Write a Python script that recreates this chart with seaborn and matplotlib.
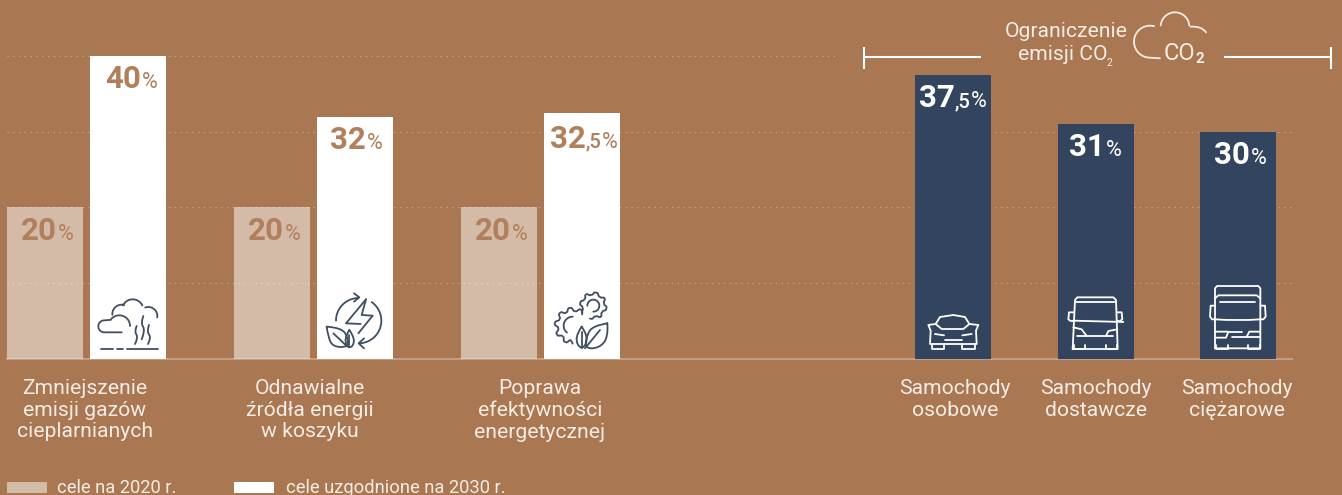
import numpy as np
import pandas as pd
import matplotlib
matplotlib.use("Agg")
import matplotlib.pyplot as plt
import seaborn as sns
from matplotlib.path import Path
from matplotlib.patches import PathPatch, Rectangle

# values
goal_labels = ["Zmniejszenie\nemisji gazów\ncieplarnianych",
               "Odnawialne\nźródła energii\nw koszyku",
               "Poprawa\nefektywności\nenergetycznej"]
goals_2020 = [20, 20, 20]
goals_2030 = [40, 32, 32.5]
vehicle_labels = ["Samochody\nosobowe", "Samochody\ndostawcze", "Samochody\nciężarowe"]
vehicle_cuts = [37.5, 31, 30]
legend_labels = ["cele na 2020 r.", "cele uzgodnione na 2030 r."]
co2_title = ["Ograniczenie", "emisji CO", "2"]

# layout, in pixels of the 1342x495 picture
W, H = 1342, 495
BASE_Y = 359
PX_PER_UNIT = 7.575
x_2020 = [45, 272, 499]
x_2030 = [128, 355, 582]
x_vehicles = [953, 1096, 1238]
label_x = [85, 310, 540, 955, 1096, 1237]
BG = "#a97752"
NAVY = "#33455e"
BROWN = "#b17f5b"
ICON = "#3f4e60"
LIGHT = "#f5ece4"
FONT = "Roboto"

sns.set_theme(style="white", rc={"font.family": FONT})

df = pd.DataFrame({
    "x": x_2020 + x_2030 + x_vehicles,
    "value": goals_2020 + goals_2030 + vehicle_cuts,
    "series": ["2020"] * 3 + ["2030"] * 3 + ["co2"] * 3,
})

fig = plt.figure(figsize=(W / 100, H / 100), dpi=100, facecolor=BG)
ax = fig.add_axes([0, 1 - BASE_Y / H, 1, BASE_Y / H], facecolor=BG)

# dotted guide lines go under the bars
dots = (0, (1, 4.2))
ax.hlines(40, 7, 835, color="#cfae95", lw=0.8, ls=dots, zorder=1)
ax.hlines([30, 20, 10], 7, 1295, color="#cfae95", lw=0.8, ls=dots, zorder=1)

sns.barplot(data=df, x="x", y="value", hue="series", native_scale=True, dodge=False,
            palette={"2020": "#ffffff", "2030": "#ffffff", "co2": NAVY},
            width=76 / 83, saturation=1, legend=False, ax=ax, zorder=2, linewidth=0)
for bar in ax.containers[0]:
    bar.set_alpha(0.5)

ax.set_xlim(0, W)
ax.set_ylim(0, BASE_Y / PX_PER_UNIT)
ax.set_xlabel("")
ax.set_ylabel("")
ax.set_yticks([])
ax.set_xticks(label_x, goal_labels + vehicle_labels)
ax.tick_params(axis="x", length=0, pad=14.5, labelsize=15.2, labelcolor=LIGHT)
for lab in ax.get_xticklabels():
    lab.set_linespacing(1.16)
for side in ["top", "left", "right"]:
    ax.spines[side].set_visible(False)
ax.spines["bottom"].set_bounds(7, 1292)
ax.spines["bottom"].set_color("#c39e82")
ax.spines["bottom"].set_linewidth(1.5)
ax.spines["bottom"].set_zorder(1.5)

# overlay in picture pixels for labels, icons and bracket
ov = fig.add_axes([0, 0, 1, 1], facecolor="none")
ov.set_xlim(0, W)
ov.set_ylim(H, 0)
ov.axis("off")
renderer = fig.canvas.get_renderer()


def value_label(value, right, color, drop=32):
    # % on the right, then decimals, then the big number
    whole, _, dec = f"{value:g}".partition(".")
    y = BASE_Y - value * PX_PER_UNIT + drop
    t = ov.text(right, y, "%", ha="right", va="baseline", color=color, fontsize=15.5)
    x = right - t.get_window_extent(renderer).width - 1
    if dec:
        t = ov.text(x, y, "," + dec, ha="right", va="baseline", color=color, fontsize=14.5, fontweight="medium")
        x -= t.get_window_extent(renderer).width
    ov.text(x, y, whole, ha="right", va="baseline", color=color, fontsize=22.5, fontweight="bold")


for x, v, pad in zip(x_2020, goals_2020, [9, 9, 9]):
    value_label(v, x + 38 - pad, BROWN, drop=33)
for x, v, pad in zip(x_2030, goals_2030, [8, 10, 2]):
    value_label(v, x + 38 - pad, BROWN, drop=35 if v == 32.5 else 32)
for x, v, pad in zip(x_vehicles, vehicle_cuts, [4, 12, 9]):
    value_label(v, x + 38 - pad, "white")


def stroke(pts, origin, color=ICON, lw=1.3, smooth=False):
    # points are given as measured on a 3x crop starting at origin
    p = np.asarray(origin) + np.asarray(pts, dtype=float) / 3
    if smooth and len(p) > 2:
        verts = [p[0]]
        codes = [Path.MOVETO]
        for i in range(1, len(p) - 1):
            end = p[i + 1] if i == len(p) - 2 else (p[i] + p[i + 1]) / 2
            verts += [p[i], end]
            codes += [Path.CURVE3, Path.CURVE3]
    else:
        verts = p
        codes = [Path.MOVETO] + [Path.LINETO] * (len(p) - 1)
    ov.add_patch(PathPatch(Path(verts, codes), fc="none", ec=color, lw=lw,
                           capstyle="round", joinstyle="round", zorder=5))


def arc(cx, cy, r, a0, a1):
    a = np.radians(np.linspace(a0, a1, 30))
    return np.c_[cx + r * np.cos(a), cy + r * np.sin(a)]


def gear(cx, cy, r_in, r_out, teeth, a0, a1):
    a = np.linspace(a0, a1, int(abs(a1 - a0) / 6) + 1)
    r = np.where(np.sin(np.radians(a * teeth)) > 0, r_out, r_in)
    return np.c_[cx + r * np.cos(np.radians(a)), cy + r * np.sin(np.radians(a))]


# climate icon
o = (0, 30)
stroke(np.r_[[(365, 907)], arc(313, 889, 18, 90, 270), arc(358, 888, 32, 215, 360)], o)
stroke(arc(365, 852, 28, 175, 285), o)
stroke(arc(398, 840, 32, 205, 335), o)
stroke(arc(445, 858, 27, -110, 10), o)
stroke([(410, 888), (403, 905), (415, 922), (405, 942)], o, smooth=True)
stroke([(430, 858), (422, 880), (436, 900), (425, 928)], o, smooth=True)
stroke([(447, 885), (440, 905), (454, 922), (444, 942)], o, smooth=True)
for a, b in [(304, 340), (350, 368), (380, 473)]:
    stroke([(a, 957), (b, 957)], o)

# renewables icon
stroke(arc(1076, 872, 68, 180, 268), o)
stroke([(1062, 790), (1078, 802), (1062, 815)], o)
stroke(arc(1076, 872, 68, -55, 85), o)
stroke([(1092, 925), (1076, 940), (1092, 955)], o)
stroke([(1098, 808), (1038, 880), (1082, 882)], o)
stroke([(1098, 808), (1085, 855), (1118, 857), (1075, 910)], o)
stroke([(980, 890), (1025, 893), (1045, 925), (1042, 952), (1000, 950), (985, 925), (980, 890)], o, smooth=True)
stroke([(1000, 910), (1042, 950)], o)
stroke([(1048, 900), (1030, 928), (1050, 960), (1068, 928), (1048, 900)], o, smooth=True)
stroke([(1048, 915), (1048, 950)], o)

# efficiency icon
o = (550, 285)
stroke(gear(130, 62, 33, 40, 8, 147, 465), o, smooth=True)
stroke(arc(130, 62, 18, 180, 450), o)
stroke(gear(68, 122, 44, 54, 10, -50, -270), o, smooth=True)
stroke(arc(68, 122, 27, 130, 270), o)
stroke([(95, 125), (72, 158), (95, 198), (118, 158), (95, 125)], o, smooth=True)
stroke([(95, 140), (95, 190)], o)
stroke([(172, 115), (130, 122), (110, 150), (105, 192), (150, 188), (175, 155), (172, 115)], o, smooth=True)
stroke([(105, 190), (150, 135)], o)

# vehicle icons
o = (900, 270)
W1 = "white"
stroke([(107, 162), (120, 141), (160, 135), (195, 141), (208, 162), (190, 177), (125, 177), (107, 162)], o, W1)
stroke([(107, 162), (85, 165), (92, 182), (90, 222), (230, 222), (228, 182), (235, 165), (208, 162)], o, W1)
stroke([(105, 192), (132, 196)], o, W1)
stroke([(187, 196), (215, 192)], o, W1)
stroke([(135, 211), (185, 211)], o, W1)
stroke([(95, 225), (95, 238), (133, 238), (133, 225)], o, W1)
stroke([(187, 225), (187, 238), (225, 238), (225, 225)], o, W1)

stroke([(518, 237), (525, 90), (532, 82), (640, 82), (648, 90), (653, 237), (518, 237)], o, W1)
stroke([(527, 97), (645, 97)], o, W1)
stroke([(520, 152), (670, 156)], o, W1)
stroke([(522, 127), (507, 127), (505, 148), (512, 153), (520, 153)], o, W1)
stroke([(650, 127), (665, 127), (667, 148), (660, 153), (652, 153)], o, W1)
stroke([(520, 172), (545, 178), (560, 198)], o, W1)
stroke([(652, 178), (625, 183), (618, 198)], o, W1)
stroke([(532, 199), (638, 199)], o, W1)
stroke([(522, 225), (522, 237), (555, 237), (555, 225)], o, W1)
stroke([(617, 225), (617, 237), (650, 237), (650, 225)], o, W1)

stroke([(945, 235), (945, 55), (951, 48), (1075, 48), (1081, 55), (1081, 235), (945, 235)], o, W1)
stroke([(945, 85), (955, 76), (1070, 76), (1081, 85)], o, W1)
stroke([(960, 97), (1065, 97)], o, W1)
stroke([(945, 148), (1012, 153), (1081, 148)], o, W1, smooth=True)
stroke([(945, 107), (932, 107), (930, 140), (936, 148), (945, 148)], o, W1)
stroke([(1081, 107), (1095, 107), (1097, 140), (1090, 148), (1081, 148)], o, W1)
stroke([(945, 185), (985, 185), (978, 203), (948, 203)], o, W1)
stroke([(985, 185), (1025, 185)], o, W1)
stroke([(997, 201), (1081, 201)], o, W1)
stroke([(1081, 185), (1048, 185), (1040, 200)], o, W1)
stroke([(947, 225), (947, 237), (983, 237), (983, 225)], o, W1)
stroke([(1043, 225), (1043, 237), (1079, 237), (1079, 225)], o, W1)

# CO2 header
ov.plot([864, 864], [47, 69], color="white", lw=1.5, solid_capstyle="butt")
ov.plot([864, 981], [57, 57], color="white", lw=1.5, solid_capstyle="butt")
ov.plot([1224, 1331], [57, 57], color="white", lw=1.5, solid_capstyle="butt")
ov.plot([1331, 1331], [47, 69], color="white", lw=1.5, solid_capstyle="butt")
ov.text(1066, 37, co2_title[0], ha="center", va="baseline", color=LIGHT, fontsize=15.2)
ov.text(1107, 60, co2_title[1], ha="right", va="baseline", color=LIGHT, fontsize=15.2)
ov.text(1107, 66, co2_title[2], ha="left", va="baseline", color=LIGHT, fontsize=7.5)
o = (850, 0)
stroke(np.r_[[(930, 175)], arc(900, 125, 48, 90, 285)], o, LIGHT)
stroke(arc(975, 80, 43, 185, 355), o, LIGHT)
stroke([(1022, 80), (1055, 78), (1068, 97)], o, LIGHT, smooth=True)
ov.text(1164, 60, "CO", ha="left", va="baseline", color=LIGHT, fontsize=17)
ov.text(1195, 63, "2", ha="left", va="baseline", color=LIGHT, fontsize=11, fontweight="bold")

# legend
ov.add_patch(Rectangle((7, 482), 40, 11, fc="white", alpha=0.5, lw=0))
ov.add_patch(Rectangle((234, 482), 40, 11, fc="white", lw=0))
ov.text(57, 493, legend_labels[0], ha="left", va="baseline", color=LIGHT, fontsize=13.2)
ov.text(286, 493, legend_labels[1], ha="left", va="baseline", color=LIGHT, fontsize=13.2)

fig.savefig("out.png", dpi=100, facecolor=BG)
